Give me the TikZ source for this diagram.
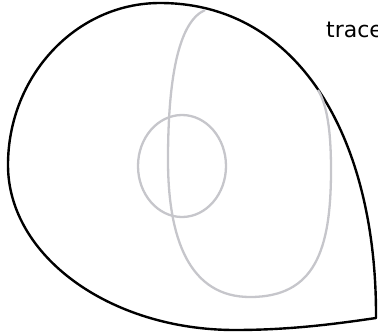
\documentclass[tikz,border=0pt]{standalone}
\usepackage{fontspec}
\setmainfont{DejaVu Sans}
\definecolor{loopgray}{RGB}{198,198,203}
\begin{document}
\begin{tikzpicture}[x=1pt,y=-1pt,
  outline/.style={draw=black,line width=2.4pt,line join=round},
  inner/.style={draw=loopgray,line width=2.3pt},
  label/.style={inner sep=0pt,anchor=base west,font=\fontsize{22}{26}\selectfont}]
\useasboundingbox (0,0) rectangle (378,333);
\clip (0,0) rectangle (378,333);
\draw[outline] (376,318) .. controls (377,140) and (300,3) .. (160,3)
  .. controls (76,3) and (8,76) .. (8,165)
  .. controls (8,256) and (110,330) .. (235,330)
  .. controls (290,330) and (335,324) .. (376,318) -- cycle;
\draw[inner] (205,10) .. controls (178,22) and (168,80) .. (168,160)
  .. controls (168,240) and (190,297) .. (250,297)
  .. controls (315,297) and (331,250) .. (331,170)
  .. controls (331,130) and (327,105) .. (318,90);
\draw[inner] (182,166) ellipse [x radius=44, y radius=51];
\node[label] (trace) at (326,37) {trace};
\end{tikzpicture}
\end{document}
